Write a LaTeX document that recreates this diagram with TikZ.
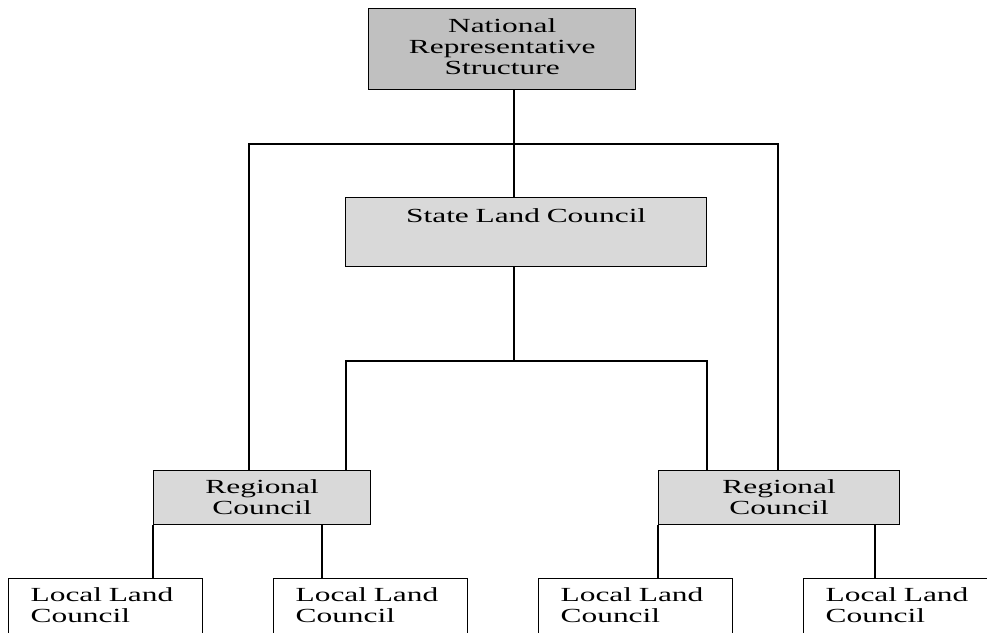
\documentclass[tikz,border=0pt]{standalone}
\usepackage{fontspec}
\setmainfont{Liberation Serif}[FakeStretch=1.57]
\usetikzlibrary{calc}
\definecolor{darkfill}{HTML}{C0C0C0}
\definecolor{lightfill}{HTML}{D9D9D9}
\begin{document}
\begin{tikzpicture}[x=1pt,y=-1pt,
  every node/.style={font=\fontsize{20}{21}\selectfont},
  orgbox/.style={draw=black, line width=1.3pt, rectangle, anchor=north west, inner ysep=0pt, inner xsep=0pt},
  link/.style={draw=black, line width=1.3pt}]
\useasboundingbox (0,0) rectangle (987,632);
\clip (0,0) rectangle (987,632);
% boxes
\node[orgbox, fill=darkfill, text width=267pt, align=center, text height=24pt, text depth=57pt] (N) at (368,8) {National\\Representative\\Structure};
\node[orgbox, fill=lightfill, text width=361pt, align=center, text height=25pt, text depth=44pt] (S) at (345,197) {State Land Council};
\node[orgbox, fill=lightfill, text width=217pt, align=center, text height=23pt, text depth=31pt] (RL) at (153,470) {Regional\\Council};
\node[orgbox, fill=lightfill, text width=241pt, align=center, text height=23pt, text depth=31pt] (RR) at (658,470) {Regional\\Council};
\tikzset{localbox/.style={orgbox, fill=white, text width=150pt, inner xsep=22pt, align=left, text height=23pt, text depth=42pt}}
\node[localbox] (L1) at (8,578) {Local Land\\Council};
\node[localbox] (L2) at (273,578) {Local Land\\Council};
\node[localbox] (L3) at (538,578) {Local Land\\Council};
\node[localbox] (L4) at (803,578) {Local Land\\Council};
% junction coordinates
\coordinate (top) at (514,144);
\coordinate (tl) at (249,144);
\coordinate (tr) at (778,144);
\coordinate (mid) at (514,361);
\coordinate (ml) at (346,361);
\coordinate (mr) at (707,361);
\coordinate (c1) at (153,0);
\coordinate (c2) at (322,0);
\coordinate (c3) at (658,0);
\coordinate (c4) at (875,0);
% connectors
\draw[link] (N.south -| top) -- (S.north -| top);
\draw[link] (RL.north -| tl) -- (tl) -- (tr) -- (RR.north -| tr);
\draw[link] (S.south -| mid) -- (mid);
\draw[link] (RL.north -| ml) -- (ml) -- (mr) -- (RR.north -| mr);
\draw[link] (RL.south -| c1) -- (L1.north -| c1);
\draw[link] (RL.south -| c2) -- (L2.north -| c2);
\draw[link] (RR.south -| c3) -- (L3.north -| c3);
\draw[link] (RR.south -| c4) -- (L4.north -| c4);
\end{tikzpicture}
\end{document}
